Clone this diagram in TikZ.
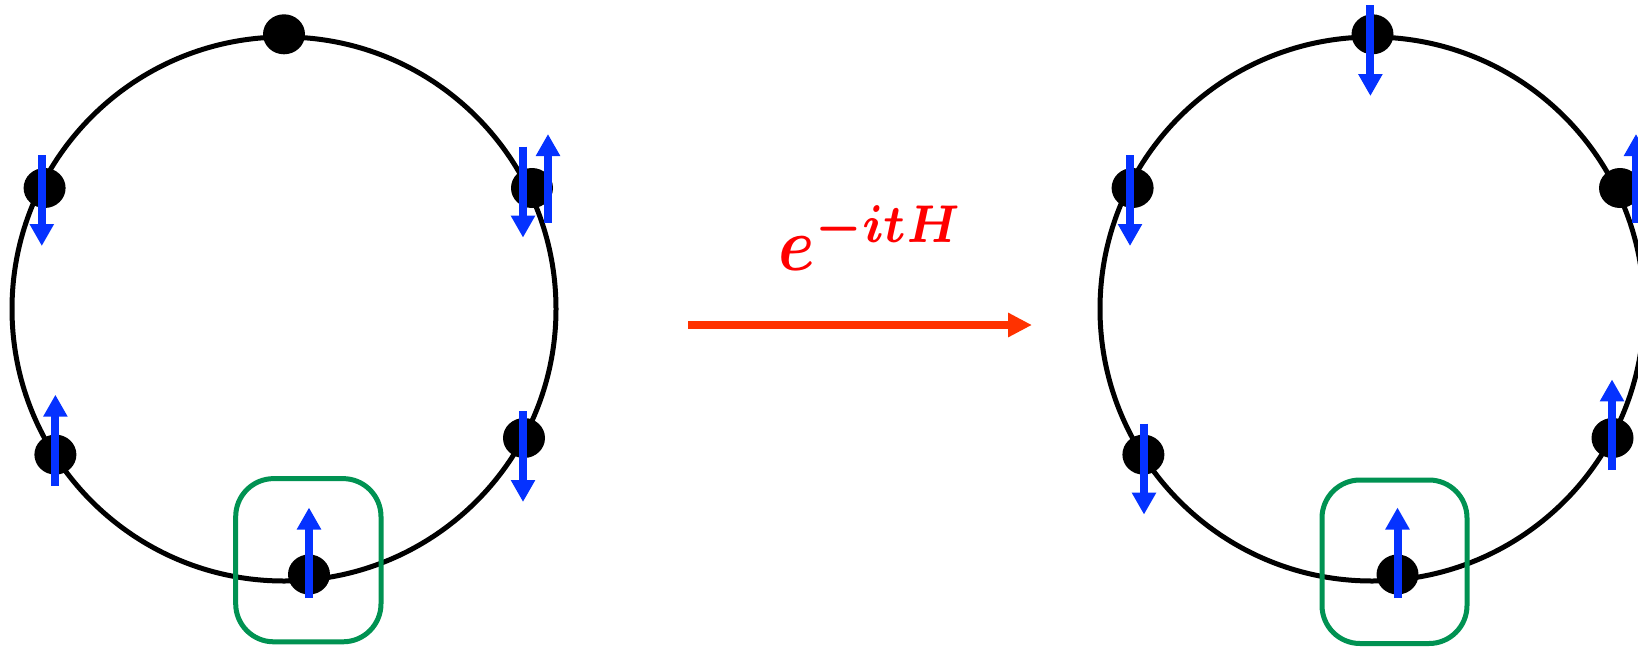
\documentclass[tikz,border=0pt]{standalone}
\usetikzlibrary{arrows.meta,shapes.geometric}
\definecolor{spinblue}{RGB}{5,50,255}
\definecolor{boxgreen}{RGB}{0,146,82}
\definecolor{arrowred}{RGB}{255,50,0}
\newcommand{\evolop}{{\boldmath$e^{-itH}$}}
\tikzset{
  ring/.style={draw=black,line width=5pt},
  site/.style={ellipse,fill=black,draw=none,minimum width=42pt,minimum height=40pt,inner sep=0pt},
  spin/.style={draw=spinblue,line width=8pt,-{Triangle[width=23pt,length=22pt]}},
  cell/.style={draw=boxgreen,line width=5pt,rounded corners=38pt},
  evol/.style={draw=arrowred,line width=8pt,-{Triangle[width=23pt,length=24pt]}}
}
\begin{document}
\begin{tikzpicture}[x=1pt,y=-1pt]
\useasboundingbox (0,0) rectangle (1638,648);
\clip (0,0) rectangle (1638,648);
% left chain
\draw[ring] (284,309) circle[radius=272];
\node[site] (lt) at (284,34.3) {};
\node[site] (lul) at (44.6,188) {};
\node[site] (lur) at (532,188) {};
\node[site] (lll) at (55.4,454.6) {};
\node[site] (llr) at (524,438) {};
\node[site] (lb) at (309,574.5) {};
\draw[cell] (235.7,478.6) rectangle (381,641.8);
\draw[spin] (41.8,155) -- (41.8,246);
\draw[spin] (523,146.7) -- (523,237.6);
\draw[spin] (548,223) -- (548,134);
\draw[spin] (55.4,485.6) -- (55.4,394.7);
\draw[spin] (523,411) -- (523,502);
\draw[spin] (309,598) -- (309,507.5);
% operator
\coordinate (ea) at (688,325);
\coordinate (eb) at (1032,325);
\draw[evol] (ea) -- (eb);
\node[text=red,anchor=base west,inner sep=0pt,xscale=6.6,yscale=7.6] (op) at (777.5,270) {\evolop};
% right chain
\draw[ring] (1372,309) circle[radius=272];
\node[site] (rt) at (1372.5,34.3) {};
\node[site] (rul) at (1132.6,188) {};
\node[site] (rur) at (1620,188) {};
\node[site] (rll) at (1143.4,454.6) {};
\node[site] (rlr) at (1612.5,438) {};
\node[site] (rb) at (1397.5,574.5) {};
\draw[cell] (1322,480) rectangle (1467,643.5);
\draw[spin] (1370.4,5) -- (1370.4,96);
\draw[spin] (1130,155) -- (1130,246);
\draw[spin] (1636,223) -- (1636,134);
\draw[spin] (1144,423.6) -- (1144,514.6);
\draw[spin] (1612,470) -- (1612,379.4);
\draw[spin] (1397.5,598) -- (1397.5,507.5);
\end{tikzpicture}
\end{document}
